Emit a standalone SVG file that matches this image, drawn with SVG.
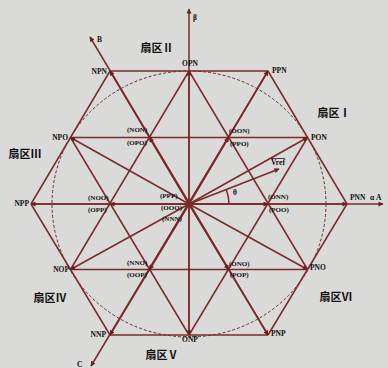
<svg xmlns="http://www.w3.org/2000/svg" width="388" height="368" viewBox="0 0 388 368">
<style>
.ln{stroke:#7a2a2a;stroke-width:1.5;fill:none}
.ax{stroke:#7a2a2a;stroke-width:1.5;fill:none;marker-end:url(#ah)}
.ray{stroke:#7a2a2a;stroke-width:1.5;fill:none;marker-end:url(#ah)}
.lb{font-family:"Liberation Serif",serif;font-weight:bold;font-size:7.5px;fill:#111}
.sl{font-family:"Liberation Serif",serif;font-weight:bold;font-size:7px;fill:#111}
.sec{font-family:"Liberation Serif","Noto Sans CJK SC",serif;font-weight:bold;font-size:11px;fill:#111;text-anchor:middle}
</style>
<defs>
<marker id="ah" viewBox="0 0 10 10" refX="9" refY="5" markerWidth="7" markerHeight="5" markerUnits="userSpaceOnUse" orient="auto">
<path d="M0,0 L10,5 L0,10 z" fill="#6a1f1f"/>
</marker>
</defs>
<rect width="388" height="368" fill="#dadad8"/>
<g id="connectors">
<ellipse cx="189" cy="204" rx="137" ry="133" fill="none" stroke="#6a2a2a" stroke-width="1" stroke-dasharray="3 2"/>
<line class="ln" x1="110" y1="71" x2="268" y2="71"/>
<line class="ln" x1="70.5" y1="137.5" x2="307.5" y2="137.5"/>
<line class="ln" x1="70.5" y1="269.5" x2="307.5" y2="269.5"/>
<line class="ln" x1="110" y1="335" x2="268" y2="335"/>
<line class="ln" x1="268" y1="335" x2="347" y2="204"/>
<line class="ln" x1="189" y1="335" x2="307.5" y2="137.5"/>
<line class="ln" x1="70.5" y1="269.5" x2="189" y2="71"/>
<line class="ln" x1="31" y1="204" x2="110" y2="71"/>
<line class="ln" x1="110" y1="335" x2="31" y2="204"/>
<line class="ln" x1="189" y1="335" x2="70.5" y2="137.5"/>
<line class="ln" x1="307.5" y1="269.5" x2="189" y2="71"/>
<line class="ln" x1="347" y1="204" x2="268" y2="71"/>
<line class="ax" x1="31" y1="204" x2="383" y2="204"/>
<line class="ax" x1="189" y1="335" x2="189" y2="9"/>
<line class="ax" x1="268" y1="335" x2="90" y2="37"/>
<line class="ax" x1="268" y1="71" x2="91" y2="366"/>
<line class="ray" x1="189" y1="204" x2="347" y2="204"/>
<line class="ray" x1="189" y1="204" x2="268" y2="71"/>
<line class="ray" x1="189" y1="204" x2="110" y2="71"/>
<line class="ray" x1="189" y1="204" x2="31" y2="204"/>
<line class="ray" x1="189" y1="204" x2="110" y2="335"/>
<line class="ray" x1="189" y1="204" x2="268" y2="335"/>
<line class="ray" x1="189" y1="204" x2="307.5" y2="137.5"/>
<line class="ray" x1="189" y1="204" x2="189" y2="71"/>
<line class="ray" x1="189" y1="204" x2="70.5" y2="137.5"/>
<line class="ray" x1="189" y1="204" x2="70.5" y2="269.5"/>
<line class="ray" x1="189" y1="204" x2="189" y2="335"/>
<line class="ray" x1="189" y1="204" x2="307.5" y2="269.5"/>
<line class="ray" x1="189" y1="204" x2="268" y2="204"/>
<line class="ray" x1="189" y1="204" x2="228.5" y2="137.5"/>
<line class="ray" x1="189" y1="204" x2="149.5" y2="137.5"/>
<line class="ray" x1="189" y1="204" x2="110" y2="204"/>
<line class="ray" x1="189" y1="204" x2="149.5" y2="269.5"/>
<line class="ray" x1="189" y1="204" x2="228.5" y2="269.5"/>
<line class="ray" x1="189" y1="204" x2="279" y2="169"/>
<path class="ln" d="M229,204 A40,40 0 0 0 226.3,189.7" stroke-width="1.2"/>
</g>
<g id="node-PNN"><text class="lb" x="350" y="200">PNN</text></g>
<g id="node-PPN"><text class="lb" x="272" y="73">PPN</text></g>
<g id="node-NPN"><text class="lb" x="107" y="74" text-anchor="end">NPN</text></g>
<g id="node-NPP"><text class="lb" x="29" y="206" text-anchor="end">NPP</text></g>
<g id="node-NNP"><text class="lb" x="106" y="337" text-anchor="end">NNP</text></g>
<g id="node-PNP"><text class="lb" x="271" y="336">PNP</text></g>
<g id="node-OPN"><text class="lb" x="190" y="66" text-anchor="middle">OPN</text></g>
<g id="node-PON"><text class="lb" x="311" y="140">PON</text></g>
<g id="node-NPO"><text class="lb" x="68" y="140" text-anchor="end">NPO</text></g>
<g id="node-NOP"><text class="lb" x="69" y="272" text-anchor="end">NOP</text></g>
<g id="node-ONP"><text class="lb" x="190" y="342" text-anchor="middle">ONP</text></g>
<g id="node-PNO"><text class="lb" x="310" y="270">PNO</text></g>
<g id="node-NON"><text class="sl" x="127" y="132">(NON)</text><text class="sl" x="127" y="145">(OPO)</text></g>
<g id="node-OON"><text class="sl" x="229" y="133">(OON)</text><text class="sl" x="230" y="146">(PPO)</text></g>
<g id="node-NOO"><text class="sl" x="88" y="200">(NOO)</text><text class="sl" x="88" y="212">(OPP)</text></g>
<g id="node-ONN"><text class="sl" x="268" y="199">(ONN)</text><text class="sl" x="269" y="212">(POO)</text></g>
<g id="node-NNO"><text class="sl" x="127" y="265">(NNO)</text><text class="sl" x="127" y="277">(OOP)</text></g>
<g id="node-ONO"><text class="sl" x="229" y="266">(ONO)</text><text class="sl" x="230" y="277">(POP)</text></g>
<g id="node-zero"><text class="sl" x="160" y="198">(PPP)</text><text class="sl" x="161" y="210">(OOO)</text><text class="sl" x="162" y="221">(NNN)</text></g>
<g id="axis-labels">
<text class="lb" x="193" y="20" font-size="8">β</text>
<text class="lb" x="97" y="42" font-size="8">B</text>
<text class="lb" x="77" y="367" font-size="8">C</text>
<text class="lb" x="370" y="200">α A</text>
<text class="lb" x="233" y="195">θ</text>
<text class="lb" x="271" y="165" font-size="8.5" text-decoration="overline">Vref</text>
</g>
<g id="sectors">
<text class="sec" x="334" y="117">扇区Ⅰ</text>
<text class="sec" x="157" y="52">扇区Ⅱ</text>
<text class="sec" x="25" y="158">扇区Ⅲ</text>
<text class="sec" x="50" y="302">扇区Ⅳ</text>
<text class="sec" x="162" y="359">扇区Ⅴ</text>
<text class="sec" x="336" y="301">扇区Ⅵ</text>
</g>
</svg>
